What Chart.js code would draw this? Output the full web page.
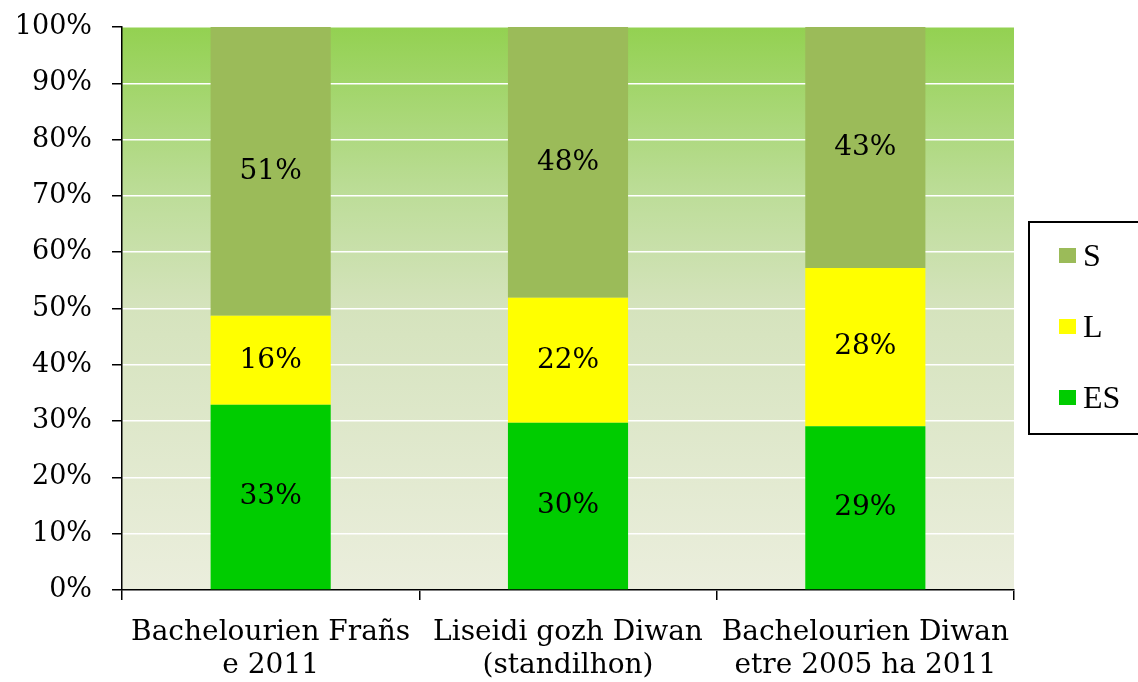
<!DOCTYPE html>
<html>
<head>
<meta charset="utf-8">
<script src="https://cdn.jsdelivr.net/npm/chart.js@4/dist/chart.umd.min.js"></script>
<style>
  html, body { margin: 0; padding: 0; background: #fff; }
  #wrap { width: 1138px; height: 682px; }
</style>
</head>
<body>
<div id="wrap"><canvas id="chart" width="1138" height="682"></canvas></div>
<script>
const categories = [
  ["Bachelourien Frañs", "e 2011"],
  ["Liseidi gozh Diwan", "(standilhon)"],
  ["Bachelourien Diwan", "etre 2005 ha 2011"],
];
const esValues = [32.9, 29.7, 29.1];
const lValues = [15.8, 22.2, 28.1];
const sValues = [51.3, 48.1, 42.8];
const yTicks = [0, 10, 20, 30, 40, 50, 60, 70, 80, 90, 100];

const axisFont = "'DejaVu Serif', serif";
const legendFont = "'Liberation Serif', serif";

// gradient behind the bars
const plotBg = {
  id: "plotBg",
  beforeDraw(chart) {
    const { ctx, chartArea: a } = chart;
    const g = ctx.createLinearGradient(0, a.top, 0, a.bottom);
    g.addColorStop(0, "#93d151");
    g.addColorStop(0.3, "#bddd99");
    g.addColorStop(0.5, "#d5e3bd");
    g.addColorStop(1, "#ebeedd");
    ctx.save();
    ctx.fillStyle = g;
    ctx.fillRect(a.left, a.top, a.right - a.left, a.bottom - a.top);
    ctx.restore();
  },
};

// percentage labels in the middle of each segment
const barLabels = {
  id: "barLabels",
  afterDatasetsDraw(chart) {
    const ctx = chart.ctx;
    ctx.save();
    ctx.font = "28px " + axisFont;
    ctx.fillStyle = "#000";
    ctx.textAlign = "center";
    ctx.textBaseline = "middle";
    chart.data.datasets.forEach((ds, i) => {
      chart.getDatasetMeta(i).data.forEach((bar, j) => {
        const mid = (bar.y + bar.base) / 2;
        ctx.fillText(Math.round(ds.data[j]) + "%", bar.x, mid);
      });
    });
    ctx.restore();
  },
};

// boxed legend on the right
const boxLegend = {
  id: "boxLegend",
  afterDraw(chart) {
    const ctx = chart.ctx;
    const items = chart.data.datasets.slice().reverse();
    ctx.save();
    ctx.strokeStyle = "#000";
    ctx.lineWidth = 2;
    ctx.strokeRect(1029, 222, 130, 212);
    ctx.font = "32px " + legendFont;
    ctx.textBaseline = "alphabetic";
    ctx.textAlign = "left";
    items.forEach((ds, i) => {
      const base = 266 + i * 71;
      ctx.fillStyle = ds.backgroundColor;
      ctx.fillRect(1059, base - 18, 17, 15);
      ctx.fillStyle = "#000";
      ctx.fillText(ds.label, 1083, base);
    });
    ctx.restore();
  },
};

new Chart(document.getElementById("chart"), {
  type: "bar",
  data: {
    labels: categories,
    datasets: [
      { label: "ES", data: esValues, backgroundColor: "#00cc00" },
      { label: "L", data: lValues, backgroundColor: "#ffff00" },
      { label: "S", data: sValues, backgroundColor: "#9bbb59" },
    ],
  },
  options: {
    responsive: false,
    animation: false,
    layout: { padding: { top: 27, right: 124, left: 0, bottom: 0 } },
    datasets: { bar: { barPercentage: 1, categoryPercentage: 0.404 } },
    plugins: { legend: { display: false }, tooltip: { enabled: false } },
    scales: {
      x: {
        stacked: true,
        afterFit: (s) => { s.height = 92; s.paddingLeft = 0; s.paddingRight = 0; },
        grid: { offset: true, drawOnChartArea: false, tickLength: 10, tickColor: "#000", lineWidth: 1.5 },
        border: { color: "#000", width: 1.5 },
        ticks: { color: "#000", font: { family: axisFont, size: 28, lineHeight: 1.18 }, padding: 16, maxRotation: 0 },
      },
      y: {
        stacked: true,
        min: 0,
        max: 100,
        afterFit: (s) => { s.width = 122; s.paddingTop = 0; s.paddingBottom = 0; },
        afterBuildTicks: (s) => { s.ticks = yTicks.map((v) => ({ value: v })); },
        grid: { color: "#ffffff", lineWidth: 1.5, tickLength: 10, tickColor: "#000" },
        border: { color: "#000", width: 1.5 },
        ticks: {
          color: "#000",
          padding: 20,
          font: { family: axisFont, size: 27 },
          callback: (v) => v + "%",
        },
      },
    },
  },
  plugins: [plotBg, barLabels, boxLegend],
});
</script>
</body>
</html>
